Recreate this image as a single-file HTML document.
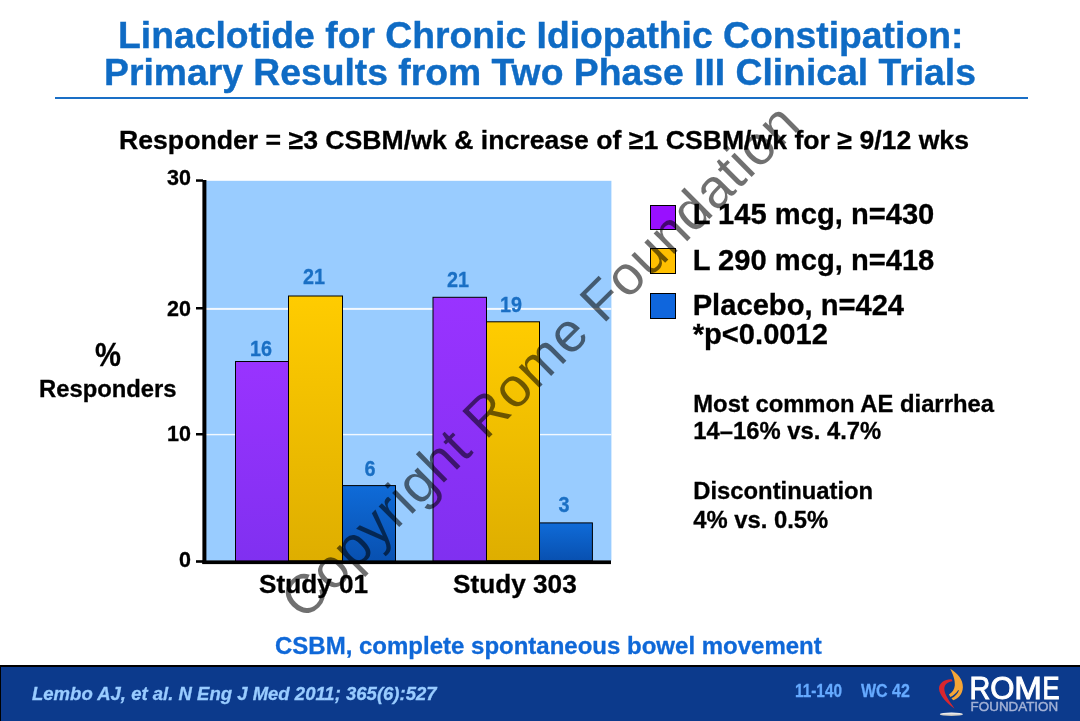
<!DOCTYPE html>
<html lang="en">
<head>
<meta charset="utf-8">
<title>Linaclotide for Chronic Idiopathic Constipation</title>
<style>
html,body{margin:0;padding:0;background:#fff;}
body{width:1080px;height:721px;position:relative;overflow:hidden;font-family:"Liberation Sans",Arial,Helvetica,sans-serif;font-weight:bold;color:#000;}
.t{position:absolute;white-space:nowrap;line-height:1;transform-origin:0 0;-webkit-text-stroke:0.3px currentColor;}
.title{color:#0f6bc4;font-size:37.3px;-webkit-text-stroke:0.4px #0f6bc4;}
.sub{font-size:26.65px;}
.ax{font-size:21.5px;text-align:right;width:40px;}
.bl{font-size:21.5px;color:#1a6fc4;text-align:center;width:60px;transform-origin:50% 50%;transform:scaleX(0.92);-webkit-text-stroke:0.3px #1a6fc4;}
.xl{font-size:26.2px;}
.lg{font-size:29.15px;}
.nt{font-size:23.8px;}
.sq{position:absolute;width:24px;height:23.5px;border:1.3px solid #000;box-sizing:content-box;}
#chart{position:absolute;left:0;top:0;}
#footer{position:absolute;left:0;top:665px;width:1080px;height:56px;background:#0c3a8c;border-top:2px solid #000;border-left:1px solid #000;box-sizing:border-box;}
.ft{color:#99ccff;}
</style>
</head>
<body>
<div class="t title" id="t1" style="left:118px;top:17px;">Linaclotide for Chronic Idiopathic Constipation:</div>
<div class="t title" id="t2" style="left:104px;top:54px;">Primary Results from Two Phase III Clinical Trials</div>
<div id="hr" style="position:absolute;left:55px;top:97.4px;width:973px;height:1.6px;background:#1a6fc6;"></div>
<div class="t sub" id="sub" style="left:119px;top:126.5px;">Responder = ≥3 CSBM/wk &amp; increase of ≥1 CSBM/wk for ≥ 9/12 wks</div>

<svg id="chart" width="1080" height="721" viewBox="0 0 1080 721">
  <defs>
    <linearGradient id="gp" x1="0" y1="0" x2="0" y2="1"><stop offset="0" stop-color="#9933ff"/><stop offset="1" stop-color="#8030f0"/></linearGradient>
    <linearGradient id="gy" x1="0" y1="0" x2="0" y2="1"><stop offset="0" stop-color="#ffcc00"/><stop offset="1" stop-color="#deae00"/></linearGradient>
    <linearGradient id="gb" x1="0" y1="0" x2="0" y2="1"><stop offset="0" stop-color="#0f6bd8"/><stop offset="1" stop-color="#0850b0"/></linearGradient>
  </defs>
  <rect x="205" y="180.8" width="406.4" height="380" fill="#99ccff"/>
  <rect x="205" y="307.9" width="406.4" height="2" fill="#f2f8ff"/>
  <rect x="205" y="433.9" width="406.4" height="1.4" fill="#f2f8ff"/>
  <!-- bars study 01 -->
  <rect x="235.5" y="361.5" width="53" height="200" fill="url(#gp)" stroke="#000" stroke-width="1"/>
  <rect x="288.5" y="296" width="54" height="265" fill="url(#gy)" stroke="#000" stroke-width="1"/>
  <rect x="342.5" y="485.6" width="53" height="76" fill="url(#gb)" stroke="#000" stroke-width="1"/>
  <!-- bars study 303 -->
  <rect x="433" y="297.3" width="53.5" height="264" fill="url(#gp)" stroke="#000" stroke-width="1"/>
  <rect x="486.5" y="321.8" width="53" height="239" fill="url(#gy)" stroke="#000" stroke-width="1"/>
  <rect x="539.5" y="522.9" width="52.9" height="38" fill="url(#gb)" stroke="#000" stroke-width="1"/>
  <!-- axes -->
  <rect x="202.4" y="180" width="4" height="384" fill="#000"/>
  <rect x="202.4" y="560.4" width="408.6" height="3.7" fill="#000"/>
  <rect x="196" y="179.3" width="7" height="2.5" fill="#000"/>
  <rect x="196" y="307" width="7" height="2.5" fill="#000"/>
  <rect x="196" y="433" width="7" height="2.5" fill="#000"/>
  <rect x="196" y="560.2" width="7" height="2.6" fill="#000"/>
</svg>

<div class="t ax" style="left:151px;top:168px;">30</div>
<div class="t ax" style="left:151px;top:299px;">20</div>
<div class="t ax" style="left:151px;top:424px;">10</div>
<div class="t ax" style="left:151px;top:550px;">0</div>

<div class="t" style="left:95px;top:337.5px;font-size:33.5px;transform:scaleX(0.87);">%</div>
<div class="t nt" style="left:39px;top:377px;">Responders</div>

<div class="t bl" style="left:230.7px;top:339px;">16</div>
<div class="t bl" style="left:284px;top:267px;">21</div>
<div class="t bl" style="left:339.5px;top:459px;">6</div>
<div class="t bl" style="left:427.5px;top:269.5px;">21</div>
<div class="t bl" style="left:481px;top:294.5px;">19</div>
<div class="t bl" style="left:534.3px;top:495.2px;">3</div>

<div class="t xl" style="left:259px;top:571px;">Study 01</div>
<div class="t xl" style="left:453px;top:571px;">Study 303</div>

<div class="sq" style="left:650.2px;top:204.7px;background:#9910ff;"></div>
<div class="sq" style="left:650.2px;top:248.3px;background:#ffc000;"></div>
<div class="sq" style="left:650.2px;top:293px;background:#0f66dd;"></div>
<div class="t lg" style="left:692.7px;top:200px;">L 145 mcg, n=430</div>
<div class="t lg" style="left:692.7px;top:246px;">L 290 mcg, n=418</div>
<div class="t lg" style="left:692.7px;top:290.6px;">Placebo, n=424</div>
<div class="t lg" style="left:692.7px;top:320.2px;">*p&lt;0.0012</div>

<div class="t nt" style="left:693.3px;top:392px;">Most common AE diarrhea</div>
<div class="t nt" style="left:693.3px;top:419px;">14–16% vs. 4.7%</div>
<div class="t nt" style="left:693.3px;top:479px;">Discontinuation</div>
<div class="t nt" style="left:693.3px;top:508px;">4% vs. 0.5%</div>

<div class="t" style="left:275px;top:634px;font-size:24px;color:#0f68d8;">CSBM, complete spontaneous bowel movement</div>

<svg id="wmsvg" style="position:absolute;left:0;top:0;" width="1080" height="721" viewBox="0 0 1080 721"><text id="wm" style="font-weight:normal" transform="translate(303.7,621.8) rotate(-44.8)" font-family="'Liberation Sans',Arial,sans-serif" font-size="55" letter-spacing="0.6" fill="#000" fill-opacity="0.56">Copyright Rome Foundation</text></svg>

<div id="footer"></div>
<div class="t ft" style="left:32px;top:683.5px;font-size:19px;font-style:italic;transform:scaleX(0.975);">Lembo AJ, et al. N Eng J Med 2011; 365(6):527</div>
<div class="t ft" style="left:795.3px;top:682px;font-size:18.5px;color:#66aaff;transform:scaleX(0.83);">11-140</div>
<div class="t ft" style="left:861px;top:682px;font-size:18.5px;color:#66aaff;transform:scaleX(0.865);">WC 42</div>

<svg id="logo" style="position:absolute;left:0;top:0;" width="1080" height="721" viewBox="0 0 1080 721">
  <defs>
    <linearGradient id="gbase" x1="0" y1="0" x2="0" y2="1"><stop offset="0" stop-color="#ffffff"/><stop offset="1" stop-color="#b9b4ae"/></linearGradient>
  </defs>
  <path d="M951.6 679.3 C945.5 678.8 939 682.8 939 688.6 C939.2 695.5 947 703.5 954.6 708.8 C950 702 944.2 694.5 944.3 688.6 C944.4 684.4 948 681.6 952.6 681.2 Z" fill="#d9262e"/>
  <path d="M950.2 668.8 C957.5 673 963.2 680 962.9 687.3 C962.6 694.3 958.3 698.8 953.2 700.3 L951.4 698.2 C954.8 696.6 957.6 693.8 958.9 690.4 L958.2 690 C956.5 693 953.6 695.6 950.4 697 L948.9 694.6 C952.4 692.6 954.4 689.4 954.8 685.6 C955.3 679.8 952.8 674 950.2 668.8 Z" fill="#f5a536"/>
  <ellipse cx="951.4" cy="714.3" rx="11.6" ry="1.7" fill="url(#gbase)"/>
  <text y="699" font-family="'Liberation Sans',Arial,sans-serif" font-size="31.3" style="font-weight:normal" fill="#ffffff" stroke="#ffffff" stroke-width="1"><tspan x="969.6" textLength="20.8" lengthAdjust="spacingAndGlyphs">R</tspan><tspan x="990.3" textLength="24.2" lengthAdjust="spacingAndGlyphs">O</tspan><tspan x="1014.2" textLength="27.6" lengthAdjust="spacingAndGlyphs">M</tspan><tspan x="1042.6" textLength="17" lengthAdjust="spacingAndGlyphs">E</tspan></text>
  <text x="970.6" y="710.7" font-family="'Liberation Sans',Arial,sans-serif" font-size="12" style="font-weight:normal" fill="#a3b2d6" stroke="#a3b2d6" stroke-width="0.4" textLength="87.6" lengthAdjust="spacingAndGlyphs">FOUNDATION</text>
</svg>
</body>
</html>
